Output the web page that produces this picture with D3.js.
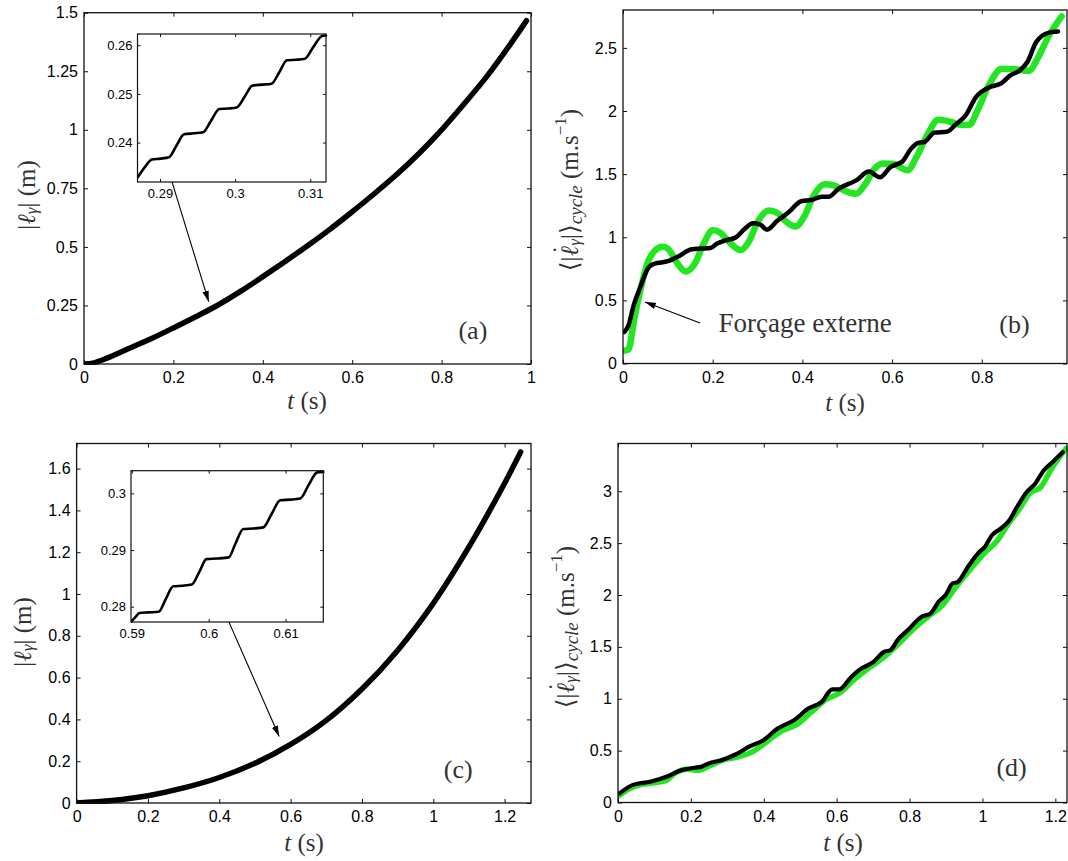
<!DOCTYPE html>
<html><head><meta charset="utf-8">
<script src="https://cdn.jsdelivr.net/npm/d3@7"></script>
<style>body{margin:0;background:#fff}svg{display:block}</style>
</head><body>
<svg id="chart" width="1068" height="861"></svg>
<script>
// ---------------- DATA ----------------
// Panel (a): |l_gamma|(t)
const tA   = [0,0.02,0.05,0.1,0.15,0.2,0.25,0.3,0.35,0.4,0.45,0.5,0.55,0.6,0.65,0.7,0.75,0.8,0.85,0.9,0.95,0.99];
const lenA = [0,0.004,0.024,0.066,0.108,0.154,0.202,0.252,0.31,0.373,0.438,0.505,0.575,0.65,0.728,0.81,0.9,1.0,1.11,1.225,1.355,1.466];
// Inset (a)
const tInsetA   = [0.287,0.288,0.2889,0.29,0.2912,0.2922,0.2932,0.2945,0.2957,0.2968,0.2979,0.2991,0.3002,0.3013,0.3023,0.3036,0.30485,0.3059,0.3069,0.3081,0.30928,0.3104,0.31158,0.3121];
const lenInsetA = [0.2328,0.235,0.2365,0.2367,0.237,0.2394,0.2417,0.2419,0.2421,0.2445,0.2469,0.247,0.2472,0.2495,0.2517,0.2519,0.2521,0.2545,0.2569,0.257,0.2572,0.2596,0.2619,0.262];
// Panel (c)
const tC   = [0,0.1,0.2,0.3,0.4,0.5,0.6,0.7,0.8,0.9,1.0,1.1,1.2,1.245];
const lenC = [0,0.012,0.035,0.072,0.122,0.19,0.28,0.395,0.545,0.73,0.955,1.225,1.53,1.68];
// Inset (c)
const tInsetC   = [0.5899,0.5905,0.591,0.5922,0.5935,0.5944,0.5954,0.5966,0.5978,0.5988,0.5997,0.6011,0.6026,0.6035,0.6045,0.6058,0.6071,0.6082,0.6093,0.6106,0.6119,0.613,0.6141,0.6149];
const lenInsetC = [0.2773,0.2782,0.2789,0.279,0.2791,0.2813,0.2836,0.2837,0.2839,0.2862,0.2884,0.2885,0.2887,0.2912,0.2937,0.2938,0.294,0.2964,0.2988,0.2989,0.2991,0.3015,0.3037,0.3038];
// Panel (b): cycle-averaged velocity
const tBGreen   = [0,0.012,0.025,0.04,0.055,0.07,0.088,0.1,0.12,0.14,0.16,0.18,0.2,0.215,0.24,0.262,0.28,0.3,0.325,0.345,0.365,0.385,0.405,0.425,0.45,0.47,0.5,0.52,0.54,0.56,0.58,0.605,0.62,0.635,0.655,0.68,0.703,0.73,0.755,0.772,0.79,0.815,0.845,0.875,0.905,0.925,0.95,0.978];
const velBGreen = [0.1,0.11,0.35,0.6,0.8,0.89,0.925,0.91,0.8,0.728,0.79,0.95,1.055,1.04,0.95,0.898,0.96,1.12,1.212,1.19,1.12,1.085,1.17,1.33,1.42,1.41,1.36,1.345,1.42,1.54,1.584,1.58,1.55,1.53,1.64,1.82,1.93,1.915,1.89,1.89,2.0,2.2,2.335,2.33,2.318,2.42,2.6,2.75];
const tBBlack   = [0.003,0.012,0.023,0.038,0.057,0.07,0.1,0.122,0.153,0.175,0.195,0.21,0.229,0.252,0.271,0.29,0.306,0.321,0.344,0.37,0.397,0.42,0.443,0.458,0.481,0.52,0.548,0.573,0.596,0.623,0.642,0.657,0.672,0.695,0.722,0.741,0.764,0.787,0.818,0.844,0.863,0.886,0.902,0.921,0.936,0.955,0.97];
const velBBlack = [0.25,0.3,0.45,0.6,0.76,0.79,0.81,0.845,0.905,0.91,0.915,0.95,0.975,1.0,1.065,1.11,1.1,1.06,1.13,1.2,1.285,1.295,1.32,1.32,1.385,1.45,1.52,1.475,1.555,1.6,1.7,1.745,1.755,1.83,1.835,1.89,1.965,2.11,2.19,2.22,2.28,2.325,2.39,2.545,2.6,2.625,2.63];
// Panel (d)
const tDGreen   = [0,0.03,0.06,0.1,0.13,0.16,0.19,0.22,0.25,0.29,0.33,0.37,0.41,0.45,0.49,0.53,0.57,0.61,0.65,0.69,0.73,0.77,0.81,0.85,0.89,0.93,0.97,1.01,1.04,1.07,1.1,1.13,1.16,1.19,1.229];
const velDGreen = [0.06,0.13,0.17,0.19,0.21,0.29,0.32,0.31,0.35,0.41,0.44,0.49,0.59,0.69,0.75,0.87,0.99,1.06,1.19,1.3,1.4,1.53,1.67,1.79,1.9,2.09,2.26,2.42,2.52,2.68,2.82,2.98,3.04,3.22,3.41];
const tDBlack   = [0.005,0.041,0.088,0.135,0.173,0.21,0.229,0.248,0.286,0.324,0.361,0.399,0.437,0.484,0.522,0.559,0.588,0.607,0.64,0.663,0.701,0.729,0.748,0.767,0.795,0.833,0.857,0.88,0.899,0.918,0.932,0.96,0.989,1.008,1.026,1.05,1.074,1.092,1.121,1.144,1.168,1.192,1.22];
const velDBlack = [0.09,0.17,0.2,0.25,0.31,0.335,0.345,0.375,0.41,0.465,0.54,0.6,0.71,0.795,0.905,0.97,1.09,1.09,1.21,1.28,1.355,1.45,1.47,1.565,1.66,1.79,1.82,1.935,2.0,2.11,2.125,2.27,2.405,2.47,2.575,2.64,2.72,2.83,2.99,3.07,3.2,3.28,3.375];

// Tick values
const ticksAX = [0,0.2,0.4,0.6,0.8,1];
const ticksAY = [0,0.25,0.5,0.75,1,1.25,1.5];
const ticksBX = [0,0.2,0.4,0.6,0.8];
const ticksBY = [0,0.5,1,1.5,2,2.5];
const ticksCX = [0,0.2,0.4,0.6,0.8,1,1.2];
const ticksCY = [0,0.2,0.4,0.6,0.8,1,1.2,1.4,1.6];
const ticksDX = [0,0.2,0.4,0.6,0.8,1,1.2];
const ticksDY = [0,0.5,1,1.5,2,2.5,3];
const ticksInsetAX = [0.29,0.3,0.31];
const ticksInsetAY = [0.24,0.25,0.26];
const ticksInsetCX = [0.59,0.6,0.61];
const ticksInsetCY = [0.28,0.29,0.3];

// ---------------- DRAWING ----------------
const svg = d3.select('#chart');
const defs = svg.append('defs');
defs.append('marker').attr('id','arrowhead').attr('viewBox','0 0 10 6')
  .attr('refX',10).attr('refY',3).attr('markerWidth',11).attr('markerHeight',6.5)
  .attr('markerUnits','userSpaceOnUse').attr('orient','auto')
  .append('path').attr('d','M0,0 L10,3 L0,6 Z').attr('fill','#000');

const SERIF = "'Liberation Serif','DejaVu Serif',serif";
const SANS = "'Liberation Sans',Arial,sans-serif";
const TXT = '#333';
const GREEN = '#22e622';
let clipN = 0;

function zip(a,b){ return a.map((v,i)=>[v,b[i]]); }

function axes(cfg){
  const g = svg.append('g');
  const x = d3.scaleLinear().domain(cfg.xd).range([cfg.left,cfg.right]);
  const y = d3.scaleLinear().domain(cfg.yd).range([cfg.bottom,cfg.top]);
  const fmt = d => String(+d.toFixed(4));
  if (cfg.bg) g.append('rect').attr('x',cfg.left).attr('y',cfg.top)
      .attr('width',cfg.right-cfg.left).attr('height',cfg.bottom-cfg.top).attr('fill','#fff');
  const tl = cfg.tickLen, fs = cfg.fontSize;
  const style = s => s.call(a=>a.select('.domain').remove())
      .call(a=>a.selectAll('line').attr('stroke','#111').attr('stroke-width',1))
      .call(a=>a.selectAll('text').attr('font-family',SANS).attr('font-size',fs).attr('fill','#000'));
  g.append('g').attr('transform',`translate(0,${cfg.bottom})`)
    .call(d3.axisBottom(x).tickValues(cfg.tx).tickSize(-tl).tickPadding(cfg.padX).tickFormat(fmt)).call(style);
  g.append('g').attr('transform',`translate(0,${cfg.top})`)
    .call(d3.axisTop(x).tickValues(cfg.tx).tickSize(-tl).tickFormat('')).call(style);
  g.append('g').attr('transform',`translate(${cfg.left},0)`)
    .call(d3.axisLeft(y).tickValues(cfg.ty).tickSize(-tl).tickPadding(cfg.padY).tickFormat(fmt)).call(style);
  g.append('g').attr('transform',`translate(${cfg.right},0)`)
    .call(d3.axisRight(y).tickValues(cfg.ty).tickSize(-tl).tickFormat('')).call(style);
  const id = 'clip'+(clipN++);
  defs.append('clipPath').attr('id',id).append('rect')
    .attr('x',cfg.left).attr('y',cfg.top-1).attr('width',cfg.right-cfg.left+2).attr('height',cfg.bottom-cfg.top+2);
  const plot = g.append('g').attr('clip-path',`url(#${id})`);
  (cfg.series||[]).forEach(s=>{
    const line = d3.line().x(d=>x(d[0])).y(d=>y(d[1])).curve(s.curve || d3.curveMonotoneX);
    plot.append('path').attr('d',line(zip(s.t,s.v))).attr('fill','none')
      .attr('stroke',s.color).attr('stroke-width',s.width)
      .attr('stroke-linejoin','round').attr('stroke-linecap','round');
  });
  g.append('rect').attr('x',cfg.left).attr('y',cfg.top)
    .attr('width',cfg.right-cfg.left).attr('height',cfg.bottom-cfg.top)
    .attr('fill','none').attr('stroke','#111').attr('stroke-width',cfg.frame||1.3);
  return {g,x,y};
}

function xLabel(cx, baseline){
  const t = svg.append('text').attr('x',cx).attr('y',baseline).attr('text-anchor','middle')
    .attr('font-family',SERIF).attr('font-size',25).attr('fill',TXT);
  t.append('tspan').attr('font-style','italic').text('t');
  t.append('tspan').text(' (s)');
}
function yLabelLen(cx, cy){
  const t = svg.append('text').attr('transform',`translate(${cx},${cy}) rotate(-90)`)
    .attr('text-anchor','middle').attr('dominant-baseline','central')
    .attr('font-family',SERIF).attr('font-size',25).attr('fill',TXT);
  t.append('tspan').text('|');
  t.append('tspan').attr('font-style','italic').text('ℓ');
  t.append('tspan').attr('font-style','italic').attr('font-size',17).attr('dy',5).text('γ');
  t.append('tspan').attr('dy',-5).text('| (m)');
}
function yLabelVel(cx, cy){
  const t = svg.append('text').attr('transform',`translate(${cx},${cy}) rotate(-90)`)
    .attr('text-anchor','middle').attr('dominant-baseline','central')
    .attr('font-family',SERIF).attr('font-size',25).attr('fill',TXT);
  t.append('tspan').text('⟨|');
  t.append('tspan').attr('font-style','italic').text('ℓ');
  t.append('tspan').attr('dx',-8).attr('dy',-8).text('˙');
  t.append('tspan').attr('font-style','italic').attr('font-size',17).attr('dx',0).attr('dy',13).text('γ');
  t.append('tspan').attr('dy',-5).text('|⟩');
  t.append('tspan').attr('font-style','italic').attr('font-size',19).attr('dy',6).text('cycle');
  t.append('tspan').attr('dy',-6).text(' (m.s');
  t.append('tspan').attr('font-size',17).attr('dy',-9).text('−1');
  t.append('tspan').attr('dy',9).text(')');
}
function tag(p, tx, ty, label){
  svg.append('text').attr('x',p.x(tx)).attr('y',p.y(ty)).attr('text-anchor','middle')
    .attr('dominant-baseline','central').attr('font-family',SERIF).attr('font-size',26)
    .attr('fill',TXT).text(label);
}
function arrow(p, t0, v0, t1, v1){
  svg.append('line').attr('x1',p.x(t0)).attr('y1',p.y(v0)).attr('x2',p.x(t1)).attr('y2',p.y(v1))
    .attr('stroke','#000').attr('stroke-width',1.1).attr('marker-end','url(#arrowhead)');
}
const smooth = d3.curveCatmullRom.alpha(0.5);

// Panel (a)
const pA = axes({left:84,right:531,top:12.7,bottom:364,xd:[0,1],yd:[0,1.5],tx:ticksAX,ty:ticksAY,
  tickLen:4,fontSize:16,padX:8,padY:6,
  series:[{t:tA,v:lenA,color:'#000',width:5.5,curve:smooth}]});
xLabel(307,409); yLabelLen(26,195);
tag(pA,0.87,0.145,'(a)');
arrow(pA,0.188,0.833,0.279,0.266);
axes({left:137.5,right:326,top:34,bottom:182,xd:[0.287,0.3121],yd:[0.2319,0.2623],
  tx:ticksInsetAX,ty:ticksInsetAY,tickLen:3,fontSize:13,padX:7,padY:5,bg:true,frame:1.2,
  series:[{t:tInsetA,v:lenInsetA,color:'#000',width:2.6}]});

// Panel (b)
const pB = axes({left:623,right:1067,top:10,bottom:363.5,xd:[0,0.99],yd:[0,2.8],tx:ticksBX,ty:ticksBY,
  tickLen:4,fontSize:16,padX:8,padY:6,
  series:[{t:tBGreen,v:velBGreen,color:GREEN,width:6.5},{t:tBBlack,v:velBBlack,color:'#000',width:4.5}]});
xLabel(845,411); yLabelVel(569,190);
tag(pB,0.873,0.305,'(b)');
arrow(pB,0.1717,0.321,0.049,0.487);
svg.append('text').attr('x',pB.x(0.213)).attr('y',pB.y(0.25)).attr('font-family',SERIF)
  .attr('font-size',27).attr('fill',TXT).text('Forçage externe');

// Panel (c)
const pC = axes({left:76.6,right:531,top:443.5,bottom:803,xd:[0,1.274],yd:[0,1.72],tx:ticksCX,ty:ticksCY,
  tickLen:4,fontSize:16,padX:8,padY:6,
  series:[{t:tC,v:lenC,color:'#000',width:5.5,curve:smooth}]});
xLabel(304,851); yLabelLen(22,632);
tag(pC,1.07,0.158,'(c)');
arrow(pC,0.373,1.076,0.568,0.318);
axes({left:131,right:323.3,top:470.7,bottom:622,xd:[0.5899,0.6149],yd:[0.2773,0.304],
  tx:ticksInsetCX,ty:ticksInsetCY,tickLen:3,fontSize:13,padX:7,padY:5,bg:true,frame:1.2,
  series:[{t:tInsetC,v:lenInsetC,color:'#000',width:2.6}]});

// Panel (d)
const pD = axes({left:618,right:1067,top:443.5,bottom:802.5,xd:[0,1.232],yd:[0,3.46],tx:ticksDX,ty:ticksDY,
  tickLen:4,fontSize:16,padX:8,padY:6,
  series:[{t:tDGreen,v:velDGreen,color:GREEN,width:5.5},{t:tDBlack,v:velDBlack,color:'#000',width:4.2}]});
xLabel(843,851); yLabelVel(565,627);
tag(pD,1.08,0.34,'(d)');
</script>
</body></html>
